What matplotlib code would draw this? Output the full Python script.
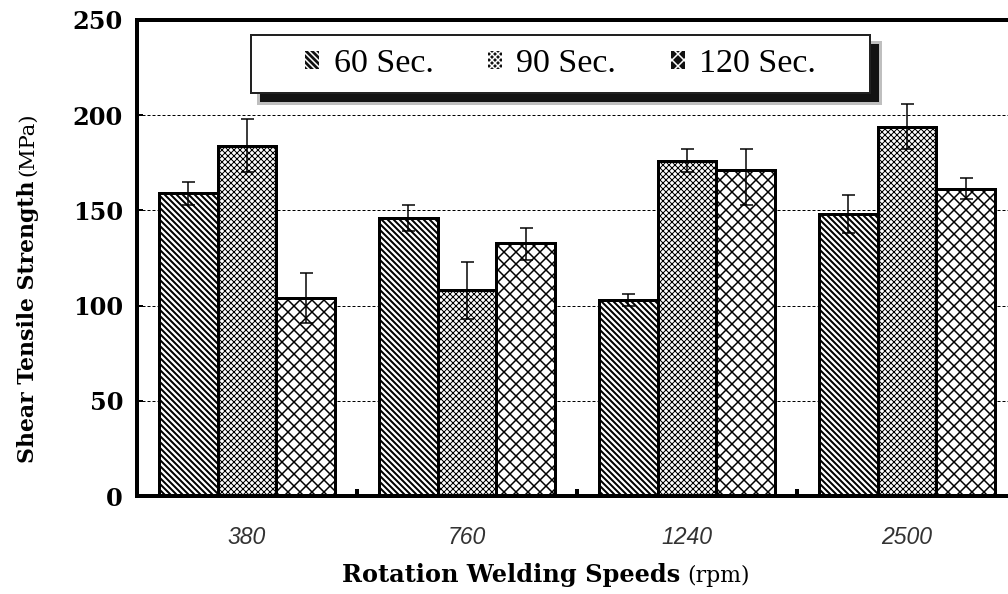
import numpy as np
import matplotlib
matplotlib.use('Agg')
import matplotlib.pyplot as plt
from matplotlib.patches import Patch, Rectangle

# data
speeds = ['380', '760', '1240', '2500']
series = ['60 Sec.', '90 Sec.', '120 Sec.']
sec60 = [159, 146, 103, 148]
sec90 = [184, 108, 176, 194]
sec120 = [104, 133, 171, 161]
err60 = [6, 7, 3, 10]
err90 = [14, 15, 6, 12]
err120_lo = [13, 9, 18, 5]
err120_hi = [13, 8, 11, 6]

hatches = ['\\\\\\\\', 'xxxx', 'xx']
hatch_lw = [2.0, 1.0, 1.5]
plt.rcParams['hatch.linewidth'] = 1.5

fig = plt.figure(figsize=(14, 8.25), dpi=72)
W, H = 1008, 594
ax = fig.add_axes([137 / W, 1 - 496 / H, 880 / W, 476 / H])

x = np.arange(len(speeds))
w = 0.267
vals = [sec60, sec90, sec120]
errs = [[err60, err60], [err90, err90], [err120_lo, err120_hi]]
for i in range(3):
    pos = x + (i - 1) * w
    bars = ax.bar(pos, vals[i], w, facecolor='white', edgecolor='black',
                  linewidth=3, hatch=hatches[i], zorder=2)
    for b in bars:
        if hasattr(b, 'set_hatch_linewidth'):
            b.set_hatch_linewidth(hatch_lw[i])
    ax.errorbar(pos, vals[i], yerr=errs[i], fmt='none', ecolor='black',
                elinewidth=1.5, capsize=6.5, capthick=1.5, zorder=3)

ax.set_xlim(-0.5, 3.5)
ax.set_ylim(0, 250)
ax.set_yticks(np.arange(0, 251, 50))
ax.set_axisbelow(True)
ax.yaxis.grid(True, linestyle=(0, (3, 2)), color='black', linewidth=1)

for s in ['left', 'top', 'bottom']:
    ax.spines[s].set_linewidth(4)
ax.spines['right'].set_visible(False)

ax.set_xticks(x)
ax.set_xticklabels(speeds, family='Liberation Sans', style='italic',
                   fontsize=23, color='#333333')
ax.tick_params(axis='x', which='major', length=0, pad=30)
ax.set_xticks([0.5, 1.5, 2.5], minor=True)
ax.tick_params(axis='x', which='minor', direction='in', length=7, width=4)
ax.tick_params(axis='y', direction='in', length=6, width=2, pad=14)
for lab in ax.get_yticklabels():
    lab.set_family('DejaVu Serif')
    lab.set_weight('bold')
    lab.set_fontsize(24)

# axis labels, unit part in a lighter face
yl = fig.text(28 / W, 1 - 322 / H, 'Shear Tensile Strength', rotation=90,
              ha='center', va='center', family='DejaVu Serif',
              weight='bold', fontsize=22)
ax.annotate('(MPa)', xy=(0.5, 1), xycoords=yl, xytext=(0, 5),
            textcoords='offset points', rotation=90, ha='center',
            va='bottom', family='DejaVu Serif', fontsize=21)

xl = fig.text(511 / W, 1 - 575 / H, 'Rotation Welding Speeds', ha='center',
              va='center', family='DejaVu Serif', weight='bold', fontsize=24)
ax.annotate('(rpm)', xy=(1, 0), xycoords=xl, xytext=(7, 0),
            textcoords='offset points', ha='left', va='bottom',
            family='DejaVu Serif', fontsize=22)

# legend box with drop shadow
bx, by, bw, bh = 251, 35, 619, 58
for off, a, grow in [(9, 0.25, 3), (9, 0.9, 0)]:
    fig.add_artist(Rectangle(((bx + off - grow) / W, 1 - (by + bh + off + grow) / H),
                             (bw + 2 * grow) / W, (bh + 2 * grow) / H,
                             transform=fig.transFigure, facecolor='black',
                             edgecolor='none', alpha=a, zorder=3))
fig.add_artist(Rectangle((bx / W, 1 - (by + bh) / H), bw / W, bh / H,
                         transform=fig.transFigure, facecolor='white',
                         edgecolor='#222222', linewidth=2, zorder=4))

handles = [Patch(facecolor='#111111', edgecolor='white', linewidth=0, hatch=h)
           for h in hatches]
fig.legend(handles, series, loc='center',
           bbox_to_anchor=((bx + bw / 2) / W, 1 - (by + bh / 2) / H),
           ncol=3, frameon=False, prop={'family': 'Liberation Serif', 'size': 34},
           handlelength=0.42, handleheight=0.42, handletextpad=0.42,
           columnspacing=1.6)

fig.savefig('out.png', dpi=72)
